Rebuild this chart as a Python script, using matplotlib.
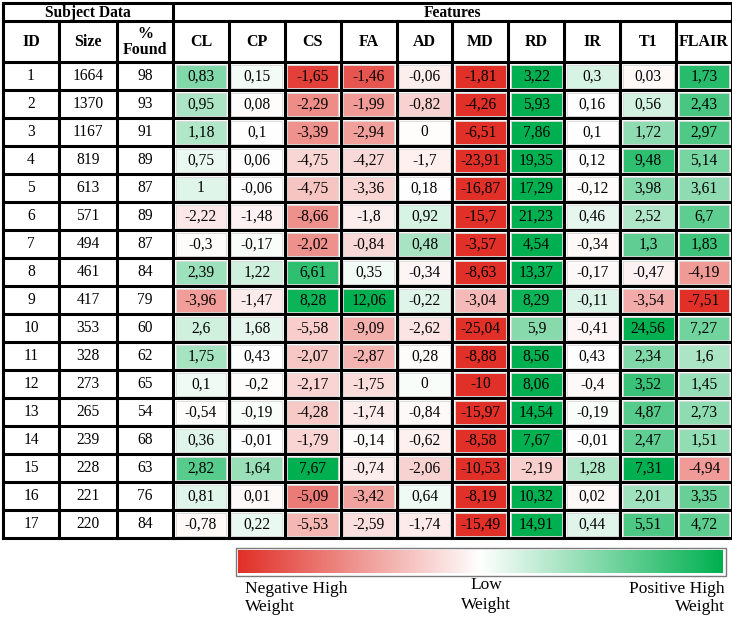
import matplotlib
matplotlib.use("Agg")
import matplotlib.pyplot as plt
import numpy as np
from matplotlib.colors import LinearSegmentedColormap, TwoSlopeNorm
from matplotlib.patches import Rectangle

plt.rcParams['font.family'] = ['Liberation Serif', 'DejaVu Serif']

# data
ids = list(range(1, 18))
sizes = [1664, 1370, 1167, 819, 613, 571, 494, 461, 417, 353, 328, 273, 265, 239, 228, 221, 220]
found = [98, 93, 91, 89, 87, 89, 87, 84, 79, 60, 62, 65, 54, 68, 63, 76, 84]
features = ['CL', 'CP', 'CS', 'FA', 'AD', 'MD', 'RD', 'IR', 'T1', 'FLAIR']
weights = [
    [0.83, 0.15, -1.65, -1.46, -0.06, -1.81, 3.22, 0.3, 0.03, 1.73],
    [0.95, 0.08, -2.29, -1.99, -0.82, -4.26, 5.93, 0.16, 0.56, 2.43],
    [1.18, 0.1, -3.39, -2.94, 0, -6.51, 7.86, 0.1, 1.72, 2.97],
    [0.75, 0.06, -4.75, -4.27, -1.7, -23.91, 19.35, 0.12, 9.48, 5.14],
    [1, -0.06, -4.75, -3.36, 0.18, -16.87, 17.29, -0.12, 3.98, 3.61],
    [-2.22, -1.48, -8.66, -1.8, 0.92, -15.7, 21.23, 0.46, 2.52, 6.7],
    [-0.3, -0.17, -2.02, -0.84, 0.48, -3.57, 4.54, -0.34, 1.3, 1.83],
    [2.39, 1.22, 6.61, 0.35, -0.34, -8.63, 13.37, -0.17, -0.47, -4.19],
    [-3.96, -1.47, 8.28, 12.06, -0.22, -3.04, 8.29, -0.11, -3.54, -7.51],
    [2.6, 1.68, -5.58, -9.09, -2.62, -25.04, 5.9, -0.41, 24.56, 7.27],
    [1.75, 0.43, -2.07, -2.87, 0.28, -8.88, 8.56, 0.43, 2.34, 1.6],
    [0.1, -0.2, -2.17, -1.75, 0, -10, 8.06, -0.4, 3.52, 1.45],
    [-0.54, -0.19, -4.28, -1.74, -0.84, -15.97, 14.54, -0.19, 4.87, 2.73],
    [0.36, -0.01, -1.79, -0.14, -0.62, -8.58, 7.67, -0.01, 2.47, 1.51],
    [2.82, 1.64, 7.67, -0.74, -2.06, -10.53, -2.19, 1.28, 7.31, -4.94],
    [0.81, 0.01, -5.09, -3.42, 0.64, -8.19, 10.32, 0.02, 2.01, 3.35],
    [-0.78, 0.22, -5.53, -2.59, -1.74, -15.49, 14.91, 0.44, 5.51, 4.72],
]

# colours (red - white - green, green half is boosted)
red = np.array([224, 48, 40]) / 255
white = np.array([1.0, 1.0, 1.0])
green = np.array([0, 176, 80]) / 255
stops = [(0.0, red), (0.5, white)]
for s in np.linspace(0.05, 1, 20):
    k = 1 - (1 - s) ** 2.5
    stops.append((0.5 + 0.5 * s, white + (green - white) * k))
cmap = LinearSegmentedColormap.from_list('rwg', stops)
legend_cmap = LinearSegmentedColormap.from_list('rwg_lin', [red, white, green])

# layout (pixels)
W, H = 732, 620
left, top = 3, 3
col_w = [56, 58, 56] + [55.9] * 10
head1_h, head2_h, row_h = 18, 41, 28
x_edges = np.concatenate([[left], left + np.cumsum(col_w)])
y0 = top + head1_h + head2_h
y_edges = y0 + row_h * np.arange(len(ids) + 1)

fig = plt.figure(figsize=(W / 100, H / 100), dpi=100)
ax = fig.add_axes([0, 0, 1, 1])
ax.set_xlim(0, W)
ax.set_ylim(H, 0)
ax.axis('off')


def fmt(v):
    return f"{v:g}".replace('.', ',')


fs = 11.2
inset = 2.5
for i in range(len(ids)):
    row = np.array(weights[i])
    norm = TwoSlopeNorm(vmin=row.min(), vcenter=np.median(row), vmax=row.max())
    yc = (y_edges[i] + y_edges[i + 1]) / 2 + 0.5
    subj = [ids[i], sizes[i], found[i]]
    for j, v in enumerate(subj):
        ax.text((x_edges[j] + x_edges[j + 1]) / 2, yc, str(v), ha='center', va='center', fontsize=fs)
    for k, v in enumerate(row):
        j = k + 3
        c = cmap(norm(v))
        ax.add_patch(Rectangle((x_edges[j] + inset, y_edges[i] + inset),
                               x_edges[j + 1] - x_edges[j] - 2 * inset, row_h - 2 * inset,
                               facecolor=c, edgecolor='#d8d8d8', lw=0.6))
        ax.text((x_edges[j] + x_edges[j + 1]) / 2, yc, fmt(weights[i][k]),
                ha='center', va='center', fontsize=fs)

# headers
headers = ['ID', 'Size', '%\nFound'] + features
for j, h in enumerate(headers):
    ax.text((x_edges[j] + x_edges[j + 1]) / 2, top + head1_h + head2_h / 2 + 1, h,
            ha='center', va='center', fontsize=11.5, fontweight='bold', linespacing=1.0)
ax.text((x_edges[0] + x_edges[3]) / 2, top + head1_h / 2 + 1, 'Subject Data',
        ha='center', va='center', fontsize=11.2, fontweight='bold')
ax.text((x_edges[3] + x_edges[-1]) / 2, top + head1_h / 2 + 1, 'Features',
        ha='center', va='center', fontsize=11.2, fontweight='bold')

# grid lines
lw = 2.2
bottom = y_edges[-1]
ax.plot([x_edges[0], x_edges[-1]], [top, top], color='black', lw=lw)
ax.plot([x_edges[0], x_edges[-1]], [top + head1_h, top + head1_h], color='black', lw=lw)
for y in y_edges:
    ax.plot([x_edges[0], x_edges[-1]], [y, y], color='black', lw=lw)
for j, x in enumerate(x_edges):
    y_start = top if j in (0, 3, len(x_edges) - 1) else top + head1_h
    ax.plot([x, x], [y_start, bottom], color='black', lw=lw)

# legend bar
bar_x0, bar_x1, bar_y0, bar_y1 = 238, 723, 550, 573
grad = np.linspace(0, 1, 256).reshape(1, -1)
ax.imshow(grad, cmap=legend_cmap, aspect='auto', extent=(bar_x0, bar_x1, bar_y1, bar_y0), zorder=2)
ax.add_patch(Rectangle((bar_x0 - 2.5, bar_y0 - 2.5), bar_x1 - bar_x0 + 5, bar_y1 - bar_y0 + 5,
                       facecolor='none', edgecolor='#7a7a7a', lw=1.0, zorder=3))
lfs = 12.5
ax.text(245, 598, 'Negative High\nWeight', ha='left', va='center', fontsize=lfs, linespacing=1.15)
ax.text(486, 595, 'Low\nWeight', ha='center', va='center', fontsize=lfs, linespacing=1.3)
ax.text(725, 598, 'Positive High\nWeight', ha='right', va='center', fontsize=lfs,
        linespacing=1.15, multialignment='right')

fig.savefig('out.png', dpi=100)
